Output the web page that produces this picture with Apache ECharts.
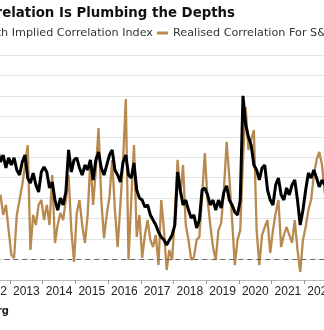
<!DOCTYPE html>
<html><head><meta charset="utf-8">
<script src="https://cdn.jsdelivr.net/npm/echarts@6/dist/echarts.min.js"></script>
<style>html,body{margin:0;padding:0;background:#fff;overflow:hidden;width:324px;height:330px;position:relative}#c{position:absolute;left:-200px;top:0;width:600px;height:330px}</style>
</head><body><div id="c"></div>
<script>
const titleText = 'Stock Correlation Is Plumbing the Depths';
const seriesNames = ['Cboe 3-Month Implied Correlation Index', 'Realised Correlation For S&P 500'];
const sourceText = 'Source: Bloomberg';
const yearLabels = ['2012','2013','2014','2015','2016','2017','2018','2019','2020','2021','2022','2023'];
const yTicks = [0,10,20,30,40,50,60,70,80,90,100,110];
const firstMonth = 2012.625; // monthly observations start (decimal year)
const implied = [63.6,57.7,61.1,54.8,59.7,56.2,59.7,53.8,51.3,57.7,61.1,49.9,47.4,52.3,46.5,43.0,52.8,55.3,52.8,45.0,47.9,39.1,34.2,40.1,36.7,43.0,63.6,52.8,58.7,59.7,54.8,51.3,56.2,53.8,58.7,48.9,58.7,62.6,54.8,51.3,56.2,61.1,63.6,53.8,51.3,47.9,57.7,61.1,51.3,49.9,57.2,44.0,40.1,39.1,35.7,36.7,31.8,29.3,26.9,23.5,21.0,19.6,17.1,19.6,22.0,26.9,52.8,44.0,36.7,39.1,34.2,30.3,31.8,25.4,29.3,44.0,45.0,41.6,36.7,39.1,34.2,39.1,35.2,43.0,46.0,39.1,36.7,33.3,31.8,39.1,90.0,75.8,69.9,66.0,56.2,53.8,48.9,54.8,56.2,44.0,39.1,36.7,46.5,49.9,41.6,39.1,45.0,41.6,46.5,48.9,39.1,26.9,34.2,44.0,52.3,49.9,53.8,49.9,45.5,48.9,46.5,47.9];
const realised = [39.1,41.6,31.8,36.7,24.4,12.2,10.8,31.8,39.1,46.5,56.2,66.0,14.7,31.8,26.9,36.7,39.1,29.3,36.7,26.9,51.3,18.1,26.9,32.8,29.3,39.1,51.3,24.4,8.8,32.8,39.1,26.9,18.1,31.8,58.7,36.7,53.8,74.3,39.1,20.5,31.8,40.6,58.7,34.2,16.1,36.7,58.7,88.5,9.8,39.1,66.0,21.0,31.8,10.8,22.0,29.3,19.6,16.1,22.0,7.3,39.1,24.4,4.9,14.7,9.8,31.8,58.7,41.6,56.2,26.9,19.6,9.8,11.2,19.6,21.0,41.6,62.1,39.1,26.9,16.1,9.8,24.4,27.9,44.0,67.5,49.9,29.3,7.3,19.6,24.4,58.7,84.6,63.6,68.5,73.3,24.4,7.3,22.0,25.9,29.3,13.2,24.4,32.8,39.1,16.1,22.0,25.9,22.0,18.1,29.3,14.7,3.9,19.6,25.9,34.2,39.1,51.3,58.7,62.6,56.2,42.5,39.1];
const refLevel = 10;

function pairs(vals){ return vals.map((v,i)=>[firstMonth + i/12, v]); }
function measure(text, font){ const c=document.createElement('canvas').getContext('2d'); c.font=font; return c.measureText(text).width; }

const OFF = 200; // chart canvas starts 200px left of the visible window
// fit font sizes to the visible text spans of the reference
const titleSize = +(14 * 233 / measure('elation Is Plumbing the Depths', 'bold 14px "DejaVu Sans"')).toFixed(2);
const legendSize = +(10 * 152 / measure('h Implied Correlation Index', '10px "DejaVu Sans"')).toFixed(2);
const titleFont = 'bold ' + titleSize + 'px "DejaVu Sans"';
const legendFont = legendSize + 'px "DejaVu Sans"';
const sourceFont = 'bold 10px "DejaVu Sans"';
const titleLeft = OFF + 235 - measure(titleText, titleFont);
const legendIconW = 11;
const legendLeft = OFF + 153 - measure(seriesNames[0], legendFont) - 5 - legendIconW;
const sourceLeft = OFF + 9 - measure(sourceText, sourceFont);

const chart = echarts.init(document.getElementById('c'), null, {renderer:'canvas'});
chart.setOption({
  animation:false,
  backgroundColor:'#fff',
  title:{text:titleText, left:titleLeft, top:6, padding:0,
    textStyle:{fontFamily:'DejaVu Sans', fontWeight:'bold', fontSize:titleSize, color:'#111', lineHeight:16}},
  legend:{left:legendLeft, top:27, padding:0, itemGap:4, itemWidth:legendIconW, itemHeight:3, icon:'rect', width:560,
    data:[{name:seriesNames[0]},{name:seriesNames[1]}],
    textStyle:{fontFamily:'DejaVu Sans', fontSize:legendSize, color:'#333', lineHeight:12}},
  graphic:[{type:'text', left:sourceLeft, top:306, style:{text:sourceText, font:sourceFont, fill:'#222'}}],
  grid:{left:OFF-22.7, right:30.3, top:55, bottom:50, containLabel:false, outerBoundsMode:'none'},
  xAxis:[
    {type:'category', data:yearLabels, boundaryGap:true,
      axisLine:{lineStyle:{color:'#bbb'}}, axisTick:{show:true, length:4, lineStyle:{color:'#999'}},
      axisLabel:{interval:0, fontFamily:'Liberation Sans', fontSize:12, color:'#222', margin:6},
      splitLine:{show:false}},
    {type:'value', min:2012, max:2024, show:false}
  ],
  yAxis:{type:'value', min:yTicks[0], max:yTicks[yTicks.length-1], interval:10, position:'right',
    axisLine:{show:false}, axisTick:{show:false},
    axisLabel:{fontFamily:'Liberation Sans', fontSize:12, color:'#222'},
    splitLine:{lineStyle:{color:'#e3e3e3', width:1}}},
  series:[
    {name:seriesNames[1], type:'line', xAxisIndex:1, data:pairs(realised), showSymbol:false,
      color:'#b98a4f', lineStyle:{width:2.3, color:'#b98a4f'}, z:2,
      markLine:{silent:true, symbol:'none', label:{show:false},
        lineStyle:{type:[5,4], color:'#666', width:1}, data:[{yAxis:refLevel}]}},
    {name:seriesNames[0], type:'line', xAxisIndex:1, data:pairs(implied), showSymbol:false,
      color:'#000', lineStyle:{width:3, color:'#000'}, z:3}
  ]
});
</script></body></html>
